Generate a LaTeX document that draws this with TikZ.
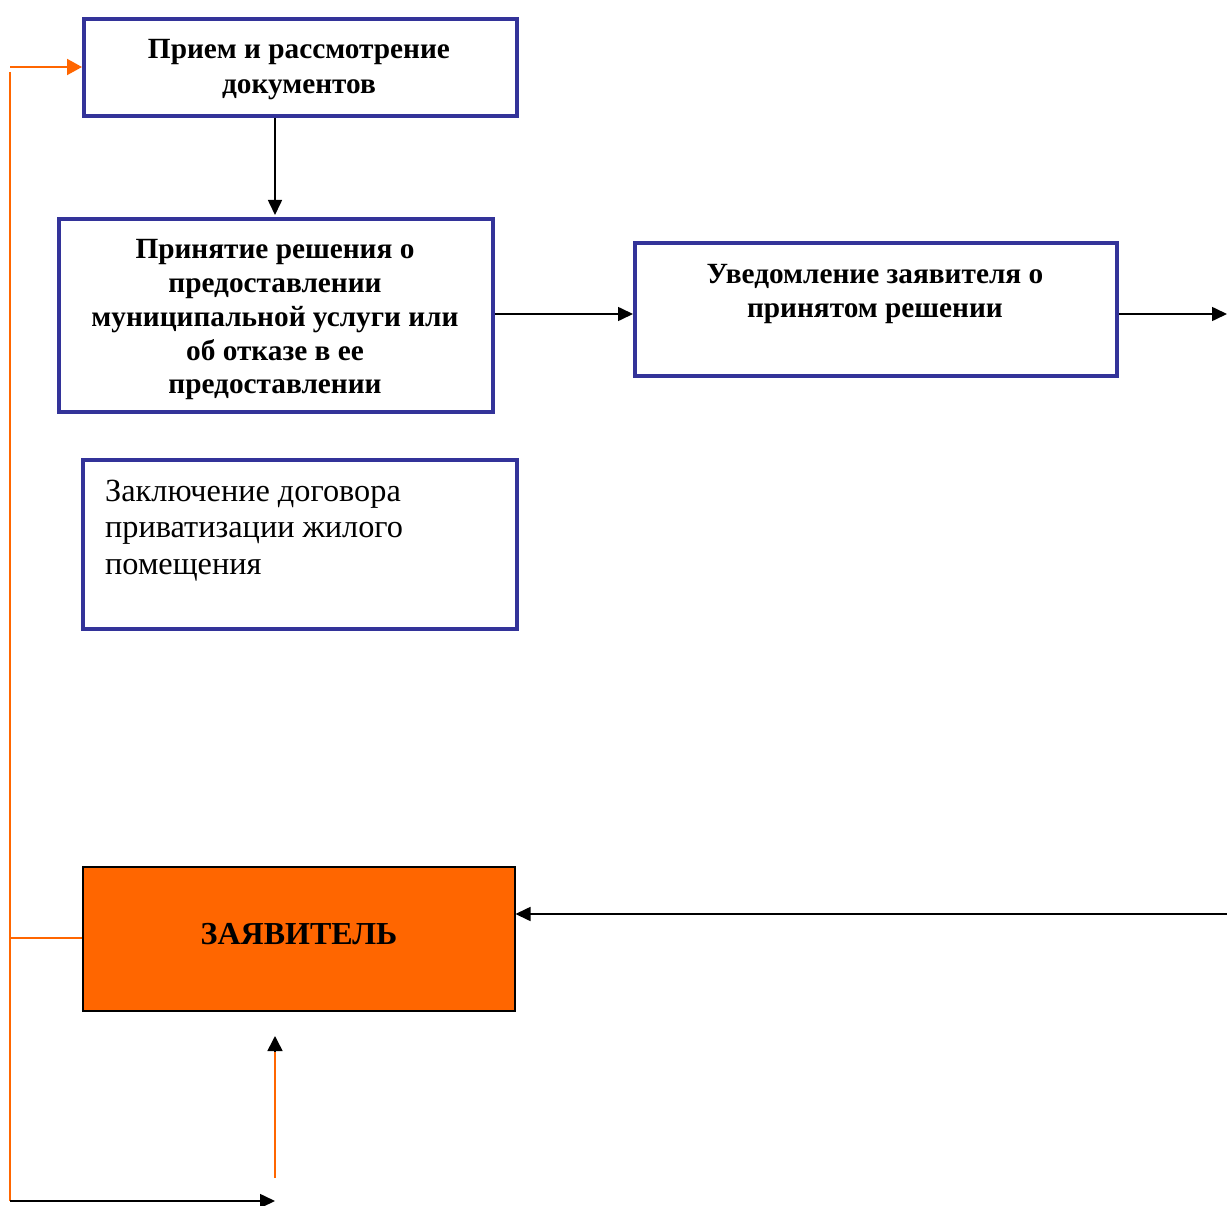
\documentclass[tikz,border=0pt]{standalone}
\usepackage{fontspec}
\setmainfont{Liberation Serif}
\usetikzlibrary{arrows.meta}
\definecolor{boxblue}{HTML}{333399}
\definecolor{orng}{HTML}{FF6600}
\tikzset{
  x=1pt, y=-1pt,
  bluebox/.style={draw=boxblue, line width=4pt, fill=white, anchor=north west, inner sep=0pt},
  boldtxt/.style={font=\bfseries\fontsize{29.3}{33.75}\selectfont, align=center, inner sep=0pt},
  conn/.style={line width=1.6pt, -{Triangle[length=15pt,width=14pt]}},
  orline/.style={draw=orng, line width=2pt},
}
\begin{document}
\begin{tikzpicture}
\useasboundingbox (0,0) rectangle (1227,1206);
% boxes
\node[bluebox, minimum width=433pt, minimum height=97pt] (b1) at (82,17) {};
\node[boldtxt, font=\bfseries\fontsize{29.3}{35}\selectfont] (t1) at (299,70) {Прием и рассмотрение\\документов};
\node[bluebox, minimum width=434pt, minimum height=193pt] (b2) at (57,217) {};
\node[boldtxt] (t2) at (275,320) {Принятие решения о\\предоставлении\\муниципальной услуги или\\об отказе в ее\\предоставлении};
\node[bluebox, minimum width=482pt, minimum height=133pt] (b3) at (633,241) {};
\node[boldtxt] (t3) at (875,294) {Уведомление заявителя о\\принятом решении};
\node[bluebox, minimum width=434pt, minimum height=169pt] (b4) at (81,458) {};
\node[font=\fontsize{32.3}{36.5}\selectfont, align=left, anchor=base west, inner sep=0pt] (t4) at (105,574) {Заключение договора\\приватизации жилого\\помещения};
\node[draw=black, line width=1.5pt, fill=orng, minimum width=432pt, minimum height=144pt, anchor=north west, inner sep=0pt] (b5) at (82,866) {};
\node[boldtxt, font=\bfseries\fontsize{32}{34}\selectfont] (t5) at (299,934) {ЗАЯВИТЕЛЬ};
% coordinates
\coordinate (e1) at (1227,314);
\coordinate (e2) at (1227,914);
\coordinate (l1) at (10,67);
\coordinate (l2) at (10,938);
\coordinate (l3) at (10,1201);
\coordinate (btip) at (275,1201);
\coordinate (ubot) at (275,1178);
\coordinate (utop) at (275,1036);
\coordinate (dtop) at (275,118);
% connectors
\draw[conn] (dtop) -- (275,215);
\draw[conn] (b2.east |- 0,314) -- (b3.west |- 0,314);
\draw[conn] (b3.east |- 0,314) -- (e1);
\draw[conn] (e2) -- (b5.east |- 0,914);
\draw[orline] (10,72) -- (l3);
\draw[orline, -{Triangle[length=15pt,width=16pt]}, orng] (l1) -- (b1.west |- l1);
\draw[orline] (l2) -- (b5.west |- l2);
\draw[conn] (l3) -- (btip);
\draw[orline] (ubot) -- (275,1050);
\draw[line width=1.6pt, -{Triangle[length=15pt,width=15pt]}] (275,1052) -- (utop);
\end{tikzpicture}
\end{document}
